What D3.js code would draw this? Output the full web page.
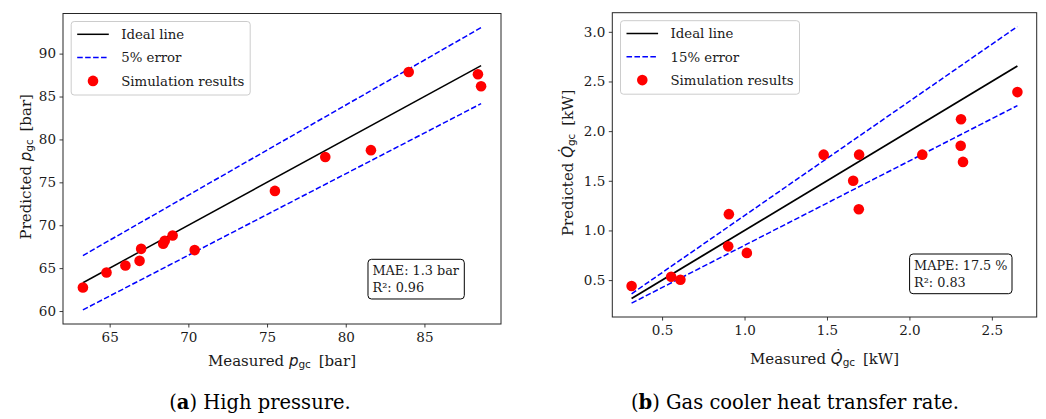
<!DOCTYPE html>
<html><head><meta charset="utf-8">
<script src="https://cdn.jsdelivr.net/npm/d3@7"></script>
<style>
html,body{margin:0;padding:0;background:#fff;}
svg{display:block;}
</style></head>
<body>
<svg id="chart" width="1046" height="419"></svg>
<script>
// ---- Data ----
const pMeasured  = [63.3, 64.8, 66.0, 66.9, 67.0, 68.4, 68.5, 69.0, 70.4, 75.5, 78.7, 81.6, 84.0, 88.4, 88.6];
const pPredicted = [62.75, 64.5, 65.3, 65.85, 67.25, 67.85, 68.2, 68.8, 67.1, 74.0, 77.95, 78.75, 87.85, 87.6, 86.2];
const qMeasured  = [0.315, 0.555, 0.611, 0.901, 0.905, 1.014, 1.693, 1.659, 1.48, 1.695, 2.078, 2.311, 2.313, 2.325, 2.655];
const qPredicted = [0.44, 0.534, 0.504, 0.84, 1.164, 0.774, 1.214, 1.5, 1.763, 1.763, 1.763, 1.853, 2.12, 1.69, 2.393];
const errorPct   = [5, 15];
const pTicksX = [65, 70, 75, 80, 85];
const pTicksY = [60, 65, 70, 75, 80, 85, 90];
const qTicksX = [0.5, 1.0, 1.5, 2.0, 2.5];
const qTicksY = [0.5, 1.0, 1.5, 2.0, 2.5, 3.0];
const legendLabels = [["Ideal line", "5% error", "Simulation results"], ["Ideal line", "15% error", "Simulation results"]];
const statsText = [["MAE: 1.3 bar", "R²: 0.96"], ["MAPE: 17.5 %", "R²: 0.83"]];
const captions = [["a", " High pressure."], ["b", " Gas cooler heat transfer rate."]];

const svg = d3.select("#chart");
const SERIF = "'DejaVu Serif', serif";
const SANS = "'DejaVu Sans', sans-serif";
const TXT = "#1a1a1a";

function pad(lo, hi) { const r = hi - lo; return [lo - 0.05 * r, hi + 0.05 * r]; }

const panels = [
  { mx: pMeasured, py: pPredicted, err: errorPct[0], tx: pTicksX, ty: pTicksY, fmt: d3.format("d"),
    box: { l: 63, r: 501, t: 13.5, b: 324 }, legend: legendLabels[0], stats: statsText[0],
    statsPos: { right: 464.3, bottom: 299 }, ylabX: 31, xlabY: 365.5, sym: "p", unit: "[bar]", dot: false,
    caption: captions[0], capX: 260 },
  { mx: qMeasured, py: qPredicted, err: errorPct[1], tx: qTicksX, ty: qTicksY, fmt: d3.format(".1f"),
    box: { l: 612.3, r: 1036.7, t: 12.7, b: 317 }, legend: legendLabels[1], stats: statsText[1],
    statsPos: { right: 1012, bottom: 293.7 }, ylabX: 573, xlabY: 364, sym: "Q", unit: "[kW]", dot: true,
    caption: captions[1], capX: 795 }
];

panels.forEach(P => {
  const g = svg.append("g");
  const xmin = d3.min(P.mx), xmax = d3.max(P.mx);
  const f = P.err / 100;
  const xDom = pad(xmin, xmax);
  const yLo = Math.min(xmin * (1 - f), d3.min(P.py));
  const yHi = Math.max(xmax * (1 + f), d3.max(P.py));
  const yDom = pad(yLo, yHi);
  const x = d3.scaleLinear().domain(xDom).range([P.box.l, P.box.r]);
  const y = d3.scaleLinear().domain(yDom).range([P.box.b, P.box.t]);

  // axes
  const xAxis = d3.axisBottom(x).tickValues(P.tx).tickFormat(P.fmt).tickSize(3.5).tickPadding(3.5);
  const yAxis = d3.axisLeft(y).tickValues(P.ty).tickFormat(P.fmt).tickSize(3.5).tickPadding(3.5);
  const gx = g.append("g").attr("transform", `translate(0,${P.box.b})`).call(xAxis);
  const gy = g.append("g").attr("transform", `translate(${P.box.l},0)`).call(yAxis);
  [gx, gy].forEach(a => {
    a.select(".domain").remove();
    a.selectAll(".tick line").attr("stroke", "#262626").attr("stroke-width", 0.9);
    a.selectAll(".tick text").attr("font-family", SERIF).attr("font-size", 13.5).attr("fill", TXT);
  });
  gx.selectAll(".tick text").attr("dy", "0.85em");

  // frame
  g.append("rect").attr("x", P.box.l).attr("y", P.box.t)
    .attr("width", P.box.r - P.box.l).attr("height", P.box.b - P.box.t)
    .attr("fill", "none").attr("stroke", "#262626").attr("stroke-width", 1);

  const clip = "clip" + P.sym;
  g.append("clipPath").attr("id", clip).append("rect").attr("x", P.box.l).attr("y", P.box.t)
    .attr("width", P.box.r - P.box.l).attr("height", P.box.b - P.box.t);
  const plot = g.append("g").attr("clip-path", `url(#${clip})`);

  const ends = [xmin, xmax];
  const line = d3.line().x(d => x(d[0])).y(d => y(d[1]));
  plot.append("path").datum(ends.map(v => [v, v])).attr("d", line)
    .attr("fill", "none").attr("stroke", "#000").attr("stroke-width", P.dot ? 1.8 : 1.5);
  [1 + f, 1 - f].forEach(k => {
    plot.append("path").datum(ends.map(v => [v, v * k])).attr("d", line)
      .attr("fill", "none").attr("stroke", "#0000ff").attr("stroke-width", 1.5)
      .attr("stroke-dasharray", "5.55,2.4");
  });
  plot.selectAll("circle.pt").data(P.mx.map((v, i) => [v, P.py[i]])).enter()
    .append("circle").attr("class", "pt")
    .attr("cx", d => x(d[0])).attr("cy", d => y(d[1])).attr("r", 5.3).attr("fill", "#ff0000");

  // legend
  const lx = P.box.l + 8.2, ly = P.box.t + 8;
  const lg = g.append("g").attr("transform", `translate(${lx},${ly})`);
  lg.append("rect").attr("width", 179).attr("height", 73.5).attr("rx", 3)
    .attr("fill", "#fff").attr("fill-opacity", 0.8).attr("stroke", "#cccccc").attr("stroke-width", 1);
  const rows = [12.8, 36.1, 59.4];
  lg.append("line").attr("x1", 6).attr("x2", 37.6).attr("y1", rows[0]).attr("y2", rows[0])
    .attr("stroke", "#000").attr("stroke-width", 1.5);
  lg.append("line").attr("x1", 6).attr("x2", 37.6).attr("y1", rows[1]).attr("y2", rows[1])
    .attr("stroke", "#0000ff").attr("stroke-width", 1.5).attr("stroke-dasharray", "5.55,2.4");
  lg.append("circle").attr("cx", 21.8).attr("cy", rows[2]).attr("r", 5.3).attr("fill", "#ff0000");
  P.legend.forEach((t, i) => {
    lg.append("text").attr("x", 50).attr("y", rows[i]).attr("dy", "0.36em")
      .attr("font-family", SERIF).attr("font-size", 13.3).attr("fill", TXT).text(t);
  });

  // stats box
  const sg = g.append("g");
  const st = sg.append("text").attr("font-family", SERIF).attr("font-size", 12.8).attr("fill", TXT);
  P.stats.forEach((t, i) => st.append("tspan").attr("x", 0).attr("y", i * 17.7).text(t));
  const bb = st.node().getBBox();
  const padX = 4.5, padY = 3.5;
  const bw = bb.width + 2 * padX, bh = bb.height + 2 * padY;
  const bx = P.statsPos.right - bw, by = P.statsPos.bottom - bh;
  sg.insert("rect", "text").attr("x", bb.x - padX).attr("y", bb.y - padY).attr("width", bw).attr("height", bh)
    .attr("rx", 3.5).attr("fill", "#fff").attr("stroke", "#000").attr("stroke-width", 1);
  sg.attr("transform", `translate(${bx - (bb.x - padX)},${by - (bb.y - padY)})`);

  // axis labels
  function mathLabel(sel, prefix) {
    sel.append("tspan").attr("font-family", SERIF).text(prefix + " ");
    sel.append("tspan").attr("font-family", SANS).attr("font-style", "italic")
      .text(P.dot ? "Q\u0307" : "p");
    sel.append("tspan").attr("font-family", SANS).attr("font-size", "0.7em").attr("dy", "0.22em").text("gc");
    sel.append("tspan").attr("font-family", SERIF).attr("dy", "-0.154em").text("\u2009 " + P.unit);
  }
  const cx = (P.box.l + P.box.r) / 2, cy = (P.box.t + P.box.b) / 2;
  const xl = g.append("text").attr("x", cx).attr("y", P.xlabY).attr("text-anchor", "middle")
    .attr("font-size", 15).attr("fill", TXT);
  mathLabel(xl, "Measured");
  const yl = g.append("text").attr("transform", `translate(${P.ylabX},${cy - 2}) rotate(-90)`)
    .attr("text-anchor", "middle").attr("font-size", 15).attr("fill", TXT);
  mathLabel(yl, "Predicted");

  // caption
  const cap = g.append("text").attr("x", P.capX).attr("y", 408.5).attr("text-anchor", "middle")
    .attr("font-family", SERIF).attr("font-size", 19.5).attr("fill", "#000");
  cap.append("tspan").text("(");
  cap.append("tspan").attr("font-weight", "bold").text(P.caption[0]);
  cap.append("tspan").text(")" + P.caption[1]);
});
</script>
</body></html>
